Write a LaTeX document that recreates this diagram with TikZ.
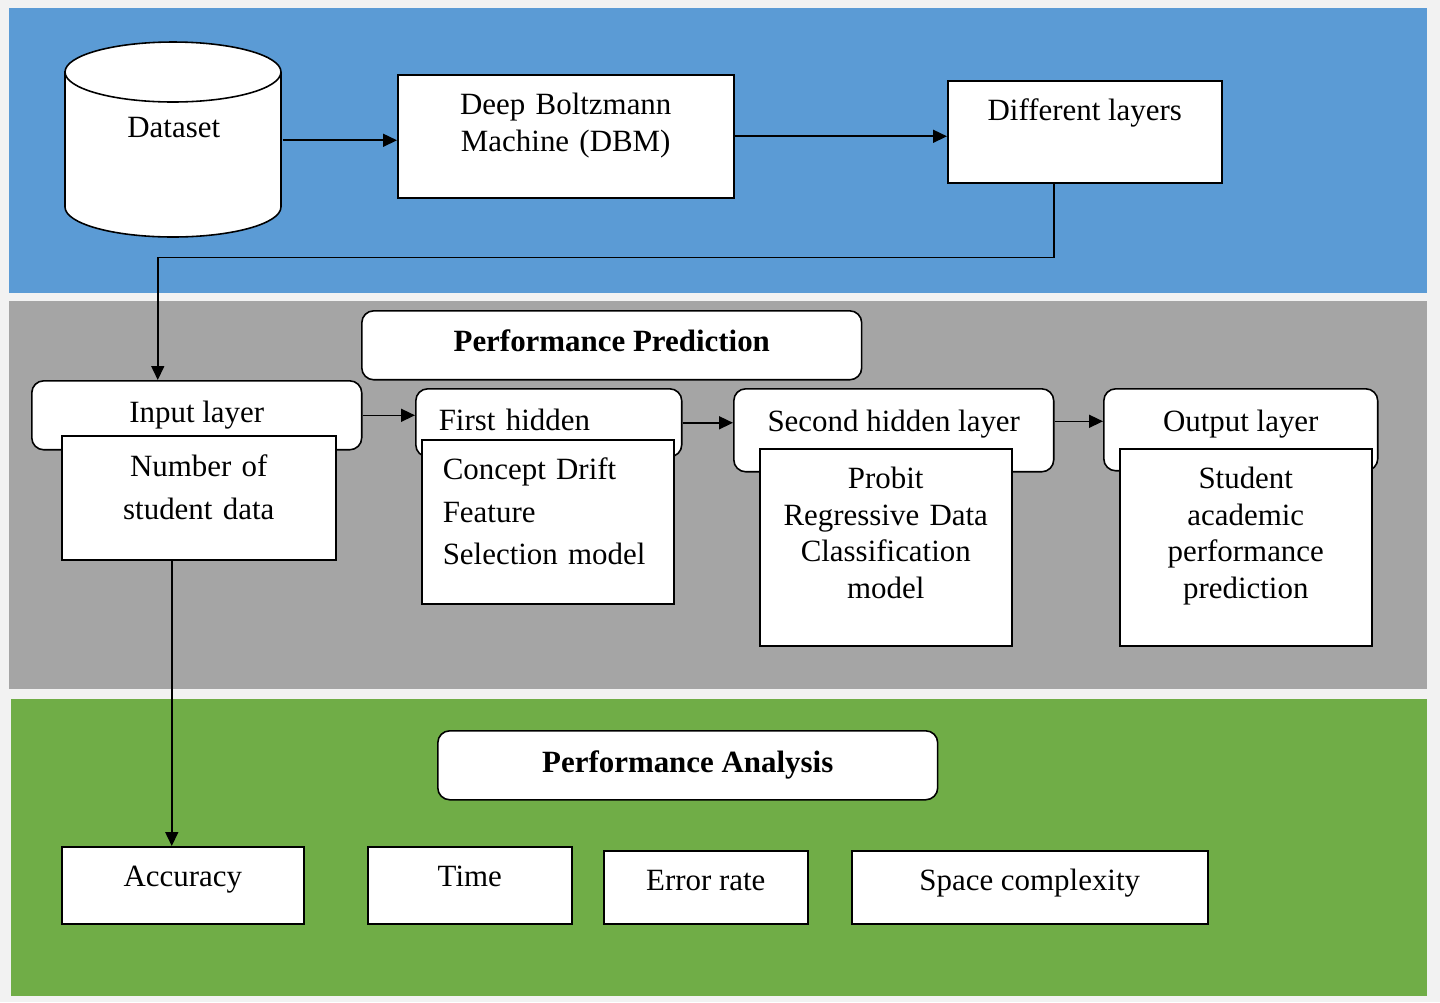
\documentclass[tikz,border=0pt]{standalone}
\usepackage{fontspec}
\setmainfont{Liberation Serif}
\usepackage{tikz}
\usetikzlibrary{arrows.meta}
\definecolor{mBlue}{RGB}{91,155,213}
\definecolor{mGrey}{RGB}{165,165,165}
\definecolor{mGreen}{RGB}{112,173,71}
\definecolor{mPaper}{RGB}{242,242,242}
\newcommand{\tightfont}{\fontsize{17.6}{20.8}\selectfont}
\newcommand{\loosefont}{\fontsize{17.6}{24.2}\selectfont}

\begin{document}
\begin{tikzpicture}[x=0.02cm,y=-0.02cm,
  box/.style={draw,fill=white,line width=0.9pt,inner sep=0pt,align=center,anchor=north west,font=\tightfont},
  rbox/.style={box,rounded corners=0.24cm},
  arr/.style={-{Triangle[length=0.28cm,width=0.26cm]},line width=0.9pt}]
\fill[mPaper,use as bounding box] (0,0) rectangle (1440,1002);
\fill[mBlue] (9,8) rectangle (1427,293);
\fill[mGrey] (9,301) rectangle (1427,689);
\fill[mGreen] (11,699) rectangle (1427,996);

\filldraw[fill=white,line width=0.9pt] (65,72) -- (65,207) arc[start angle=180,end angle=360,x radius=2.16cm,y radius=0.6cm] -- (281,72) arc[start angle=0,end angle=180,x radius=2.16cm,y radius=0.6cm] -- cycle;
\draw[line width=0.9pt] (65,72) arc[start angle=180,end angle=360,x radius=2.16cm,y radius=0.6cm];
\node[box,draw=none,fill=none,minimum width=4.32cm,text height=1.9cm,text depth=2cm] (data) at (65,42) {Dataset};
\node[box,text width=6.72cm,text height=0.8cm,text depth=1.66cm] (dbm) at (397,74) {Deep Boltzmann\\Machine (DBM)};
\node[box,minimum width=5.48cm,text height=0.8cm,text depth=1.24cm] (diff) at (947,80) {Different layers};

\node[rbox,minimum width=10cm,text height=0.82cm,text depth=0.56cm,font=\tightfont\bfseries] (predhead) at (361,310) {Performance Prediction};
\node[rbox,minimum width=6.6cm,text height=0.84cm,text depth=0.54cm] (input) at (31,380) {Input layer};
\node[box,text width=5.48cm,text height=0.82cm,text depth=1.66cm,font=\loosefont] (nstud) at (61,435) {Number of\\student data};
\node[rbox,align=left,text width=4.4cm,inner xsep=0.46cm,text height=0.84cm,text depth=0.52cm] (hid1) at (415,388) {First hidden};
\node[box,align=left,text width=4.2cm,inner xsep=0.42cm,text height=0.8cm,text depth=2.48cm,font=\loosefont] (cdrift) at (421,439) {Concept Drift\\Feature\\Selection model};
\node[rbox,minimum width=6.4cm,text height=0.86cm,text depth=0.8cm] (hid2) at (733,388) {Second hidden layer};
\node[box,text width=5.04cm,text height=0.8cm,text depth=3.14cm] (probit) at (759,448) {Probit\\Regressive Data\\Classification\\model};
\node[rbox,minimum width=5.48cm,text height=0.86cm,text depth=0.78cm] (outl) at (1103,388) {Output layer};
\node[box,text width=5.04cm,text height=0.8cm,text depth=3.14cm] (stud) at (1119,448) {Student\\academic\\performance\\prediction};

\node[rbox,minimum width=10cm,text height=0.84cm,text depth=0.54cm,font=\tightfont\bfseries] (anahead) at (437,730) {Performance Analysis};
\node[box,minimum width=4.84cm,text height=0.8cm,text depth=0.74cm] (acc) at (61,846) {Accuracy};
\node[box,minimum width=4.08cm,text height=0.8cm,text depth=0.74cm] (time) at (367,846) {Time};
\node[box,minimum width=4.08cm,text height=0.8cm,text depth=0.66cm] (err) at (603,850) {Error rate};
\node[box,minimum width=7.12cm,text height=0.8cm,text depth=0.66cm] (space) at (851,850) {Space complexity};

\draw[arr] (data.east) -- (data.east -| dbm.west);
\draw[arr] (dbm.east) -- (dbm.east -| diff.west);
\draw[arr] ([xshift=-0.62cm]diff.south) -- ++(0,74) -| ([xshift=-0.78cm]input.north);
\draw[arr] (input.east) -- (input.east -| hid1.west);
\draw[arr] (hid1.east) -- (hid1.east -| hid2.west);
\draw[arr] ([yshift=0.18cm]hid2.east) -- ([yshift=0.18cm]hid2.east -| outl.west);
\draw[arr] ([xshift=-0.54cm]nstud.south) -- ([xshift=-0.54cm]nstud.south |- acc.north);
\end{tikzpicture}
\end{document}
